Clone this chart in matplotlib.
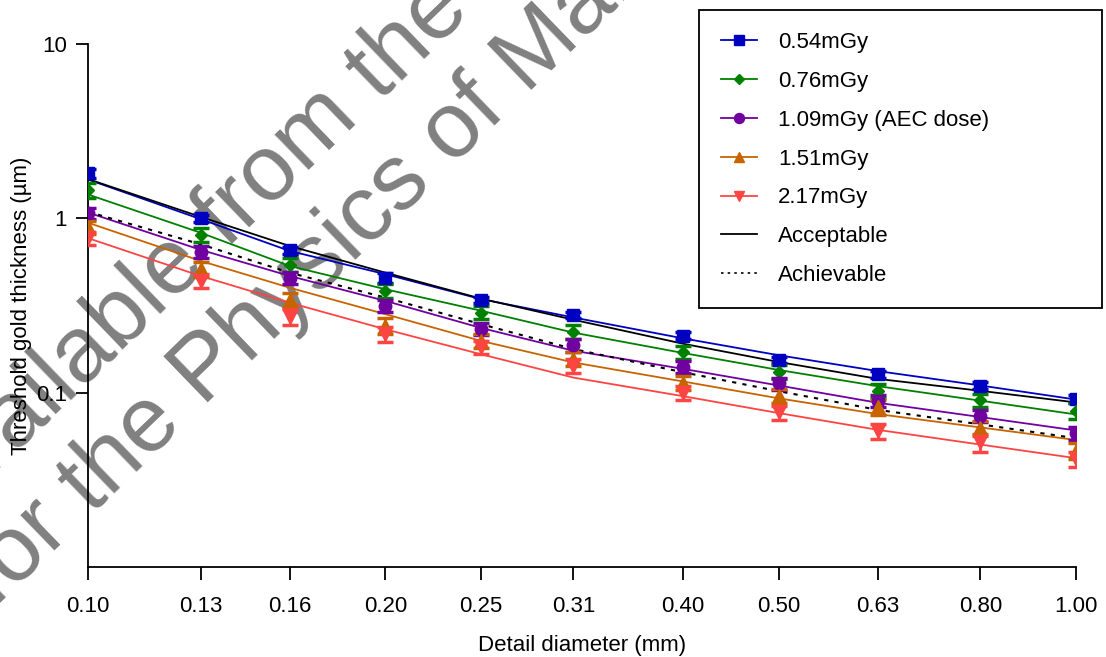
import matplotlib
matplotlib.use("Agg")
import matplotlib.pyplot as plt
from matplotlib.lines import Line2D

plt.rcParams['font.family'] = ['Liberation Sans', 'DejaVu Sans']

# detail diameters (mm)
diam = [0.10, 0.13, 0.16, 0.20, 0.25, 0.31, 0.40, 0.50, 0.63, 0.80, 1.00]
xtick_labels = ["0.10", "0.13", "0.16", "0.20", "0.25", "0.31", "0.40", "0.50", "0.63", "0.80", "1.00"]
ytick_vals = [0.1, 1, 10]
ytick_labels = ["0.1", "1", "10"]

# measured threshold gold thickness (um) and error bars
d054 = [1.81, 1.00, 0.658, 0.453, 0.340, 0.279, 0.212, 0.154, 0.128, 0.1095, 0.0919]
e054 = [0.10, 0.05, 0.03, 0.03, 0.015, 0.012, 0.010, 0.007, 0.006, 0.005, 0.005]
d076 = [1.45, 0.805, 0.54, 0.383, 0.288, 0.223, 0.170, 0.132, 0.1025, 0.0907, 0.0787]
e076 = [0.14, 0.07, 0.05, 0.035, 0.025, 0.020, 0.015, 0.012, 0.009, 0.008, 0.008]
d109 = [1.07, 0.644, 0.457, 0.315, 0.233, 0.187, 0.141, 0.113, 0.090, 0.0737, 0.0584]
e109 = [0.08, 0.05, 0.035, 0.025, 0.018, 0.015, 0.011, 0.009, 0.007, 0.006, 0.005]
d151 = [0.89, 0.51, 0.34, 0.242, 0.198, 0.156, 0.114, 0.096, 0.0823, 0.0627, 0.0465]
e151 = [0.08, 0.05, 0.035, 0.025, 0.018, 0.014, 0.011, 0.009, 0.008, 0.006, 0.005]
d217 = [0.77, 0.437, 0.273, 0.217, 0.182, 0.143, 0.100, 0.077, 0.0605, 0.0519, 0.0417]
e217 = [0.07, 0.04, 0.03, 0.022, 0.016, 0.013, 0.009, 0.007, 0.006, 0.006, 0.004]

# fitted curves
f054 = [1.67, 0.99, 0.65, 0.478, 0.344, 0.270, 0.205, 0.164, 0.133, 0.110, 0.0913]
f076 = [1.37, 0.827, 0.533, 0.392, 0.295, 0.221, 0.169, 0.135, 0.109, 0.090, 0.0750]
f109 = [1.08, 0.66, 0.467, 0.336, 0.235, 0.174, 0.137, 0.110, 0.0875, 0.0725, 0.0607]
f151 = [0.944, 0.57, 0.40, 0.282, 0.198, 0.149, 0.116, 0.0928, 0.0754, 0.0632, 0.0535]
f217 = [0.77, 0.467, 0.328, 0.231, 0.166, 0.122, 0.0955, 0.0764, 0.0612, 0.0504, 0.0421]
acceptable = [1.68, 1.02, 0.694, 0.488, 0.346, 0.262, 0.191, 0.150, 0.120, 0.1025, 0.0879]
achievable = [1.09, 0.71, 0.488, 0.351, 0.247, 0.178, 0.131, 0.102, 0.0797, 0.0658, 0.0548]

series = [
    ("0.54mGy", d054, e054, f054, "#0000C0", "s", 9),
    ("0.76mGy", d076, e076, f076, "#008000", "D", 6.5),
    ("1.09mGy (AEC dose)", d109, e109, f109, "#7000A0", "o", 9),
    ("1.51mGy", d151, e151, f151, "#C86400", "^", 9.5),
    ("2.17mGy", d217, e217, f217, "#FF4444", "v", 9.5),
]

fig = plt.figure(figsize=(11.06, 6.57), dpi=100)
ax = fig.add_axes([88/1106, 1 - 567/657, (1076-88)/1106, (567-44)/657])
ax.set_facecolor("none")

# watermark behind the chart
wm = dict(rotation=44, rotation_mode="anchor", ha="left", va="baseline",
          color="#808080", fontsize=67, zorder=-1)
fig.text(-62/1106, 1 - 528/657, "Available from the National Coordinating Centre", **wm)
fig.text(-5/1106, 1 - 608/657, "for the Physics of Mammography", **wm)

handles = []
for label, d, e, f, c, m, ms in series:
    ax.plot(diam, f, color=c, lw=1.3, zorder=3)
    ax.errorbar(diam, d, yerr=e, fmt=m, color=c, ms=ms, elinewidth=2,
                capsize=5.5, capthick=2.5, zorder=4)
    handles.append(Line2D([], [], color=c, marker=m, ms=ms*0.8, lw=1.3, label=label))

ax.plot(diam, acceptable, color="black", lw=1.3, zorder=3)
ax.plot(diam, achievable, color="black", lw=1.5, ls=(0, (2, 3)), zorder=3)
handles.append(Line2D([], [], color="black", lw=1.3, label="Acceptable"))
handles.append(Line2D([], [], color="black", lw=1.2, ls=(0, (1.5, 2.5)), label="Achievable"))

ax.set_xscale("log")
ax.set_yscale("log")
ax.set_xlim(0.1, 1.0)
ax.set_ylim(0.01, 10)
ax.set_xticks(diam)
ax.set_xticklabels(xtick_labels)
ax.set_yticks(ytick_vals)
ax.set_yticklabels(ytick_labels)
ax.minorticks_off()
ax.tick_params(axis="x", length=9, width=1.3, pad=12, labelsize=16)
ax.tick_params(axis="y", length=9, width=1.3, pad=6, labelsize=16)

for s in ["top", "right"]:
    ax.spines[s].set_visible(False)
for s in ["left", "bottom"]:
    ax.spines[s].set_linewidth(1.3)

ax.set_xlabel("Detail diameter (mm)", fontsize=16, labelpad=13)
ax.set_ylabel("Threshold gold thickness (\u00b5m)", fontsize=16)
ax.yaxis.set_label_coords(-0.057, 0.5)

leg = ax.legend(handles=handles, loc="upper left", mode="expand",
                bbox_to_anchor=(699/1106, 1 - 303/657, 403/1106, 293/657),
                bbox_transform=fig.transFigure, fontsize=16, frameon=True,
                fancybox=False, framealpha=1, edgecolor="black",
                borderpad=1.0, labelspacing=0.8, handlelength=1.6,
                handletextpad=0.95, borderaxespad=0)
leg.get_frame().set_linewidth(1.3)

fig.savefig("out.png", dpi=100)
